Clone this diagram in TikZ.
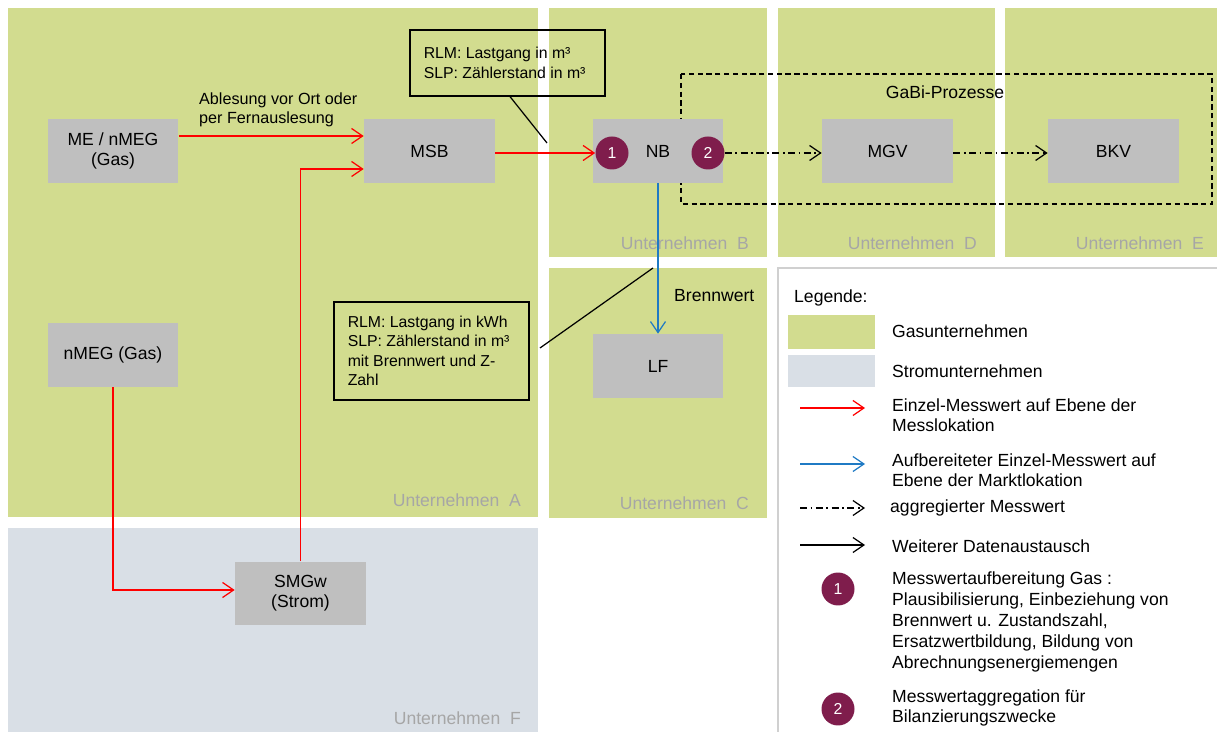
\documentclass[tikz,border=0pt]{standalone}
\usepackage{fontspec}
\setmainfont{Liberation Sans}
\usetikzlibrary{arrows.meta}
\definecolor{gasgreen}{HTML}{D2DC8F}
\definecolor{stromblue}{HTML}{D9DFE6}
\definecolor{boxgray}{HTML}{BFBFBF}
\definecolor{nrpurple}{HTML}{7F1D4C}
\definecolor{firmgray}{HTML}{A6A6A6}
\definecolor{blauline}{HTML}{1F7AC4}
\definecolor{leglinegray}{HTML}{D0D0D0}
\tikzset{
  tip/.style={-{Straight Barb[length=2.2mm,width=3mm]}},
  rotpfeil/.style={tip, red, line width=0.7pt},
  blaupfeil/.style={tip, blauline, line width=0.7pt},
  aggrpfeil/.style={tip, black, line width=0.7pt, dash pattern=on 4pt off 2pt on 1pt off 2pt},
  schwarzpfeil/.style={tip, black, line width=0.7pt},
  rolle/.style={fill=boxgray, minimum width=2.62cm, minimum height=1.28cm, align=center, inner sep=0pt},
  nr/.style={circle, fill=nrpurple, text=white, minimum size=0.66cm, inner sep=0pt, font=\fontsize{9}{10}\selectfont},
  firma/.style={text=firmgray, anchor=east},
  hinweis/.style={draw, line width=0.7pt, minimum width=3.9cm, inner sep=0pt},
  hinweistext/.style={anchor=west, align=left, inner xsep=0.28cm, font=\fontsize{9}{11}\selectfont},
  leg/.style={anchor=west, align=left}
}

\begin{document}
\begin{tikzpicture}[x=0.02cm, y=-0.02cm, font=\fontsize{10}{11.3}\selectfont]
  \useasboundingbox (0,0) rectangle (1217,732);
  % Unternehmen
  \fill[gasgreen] (8,8) rectangle (538,517);
  \fill[stromblue] (8,528) rectangle (538,732);
  \fill[gasgreen] (549,8) rectangle (767,257);
  \fill[gasgreen] (549,268) rectangle (767,518);
  \fill[gasgreen] (778,8) rectangle (995,257);
  \fill[gasgreen] (1005,8) rectangle (1217,257);
  \node[firma] (fa) at (527,500) {Unternehmen~~A};
  \node[firma] (fb) at (755,243) {Unternehmen~~B};
  \node[firma] (fc) at (755,503) {Unternehmen~~C};
  \node[firma] (fd) at (983,243) {Unternehmen~~D};
  \node[firma] (fe) at (1210,243) {Unternehmen~~E};
  \node[firma] (ff) at (527,718) {Unternehmen~~F};

  % GaBi
  \draw[line width=0.7pt, dash pattern=on 3pt off 2pt] (681,74) rectangle (1212,204);
  \node (gabi) at (945,92) {GaBi-Prozesse};

  % Marktrollen
  \node[rolle] (me) at (113,151) {ME / nMEG\\(Gas)};
  \node[rolle] (msb) at (429.5,151) {MSB};
  \node[rolle] (nb) at (658,151) {NB};
  \node[rolle] (mgv) at (887.5,151) {MGV};
  \node[rolle] (bkv) at (1113.5,151) {BKV};
  \node[rolle] (nmeg) at (113,355) {nMEG (Gas)};
  \node[rolle] (lf) at (658,366) {LF};
  \node[rolle] (smgw) at (300.5,593.5) {SMGw\\(Strom)};
  \node[nr] (n1) at (612,153) {1};
  \node[nr] (n2) at (708,153) {2};

  % Datenfluss
  \draw[rotpfeil] ([yshift=0.3cm]me.east) -- ([yshift=0.3cm]msb.west);
  \node[anchor=west, align=left, font=\fontsize{9.2}{10.8}\selectfont] (abl) at (193,110) {Ablesung vor Ort oder\\per Fernauslesung};
  \draw[rotpfeil] (nmeg.south) |- ([yshift=0.07cm]smgw.west);
  \draw[rotpfeil] (smgw.north) |- ([yshift=-0.36cm]msb.west);
  \draw[rotpfeil] (msb.east |- n1) -- (n1.west);
  \draw[aggrpfeil] (n2.east) -- (mgv.west |- n2);
  \draw[aggrpfeil] (mgv.east |- n2) -- (bkv.west |- n2);
  \draw[blaupfeil] (nb.south) -- (lf.north);
  \node[anchor=west] (bw) at (668,296) {Brennwert};

  % Hinweise
  \node[hinweis, minimum height=1.32cm] (h1) at (507.5,63) {};
  \node[hinweistext] (h1text) at (h1.west) {RLM: Lastgang in m³\\SLP: Zählerstand in m³};
  \coordinate (h1end) at (547,143);
  \draw[line width=0.7pt] ([xshift=0.05cm]h1.south) -- (h1end);
  \node[hinweis, minimum height=1.96cm] (h2) at (431.5,351) {};
  \node[hinweistext] (h2text) at (h2.west) {RLM: Lastgang in kWh\\SLP: Zählerstand in m³\\mit Brennwert und Z-\\Zahl};
  \coordinate (h2a) at (540,348);
  \coordinate (h2b) at (653,268);
  \draw[line width=0.7pt] (h2a) -- (h2b);

  % Legende
  \draw[leglinegray, line width=0.8pt] (778,732) -- (778,268) -- (1217,268);
  \node[leg] (legtitel) at (788,298) {Legende:};
  \fill[gasgreen] (788,315) rectangle (875,349);
  \fill[stromblue] (788,355) rectangle (875,387);
  \node[leg] (lgas) at (886,331) {Gasunternehmen};
  \node[leg] (lstrom) at (886,371) {Stromunternehmen};
  \coordinate (lr1) at (800,408); \coordinate (lr2) at (865,408);
  \draw[rotpfeil] (lr1) -- (lr2);
  \node[leg] (lrot) at (886,415) {Einzel-Messwert auf Ebene der\\Messlokation};
  \coordinate (lb1) at (800,464); \coordinate (lb2) at (865,464);
  \draw[blaupfeil] (lb1) -- (lb2);
  \node[leg] (lblau) at (886,470) {Aufbereiteter Einzel-Messwert auf\\Ebene der Marktlokation};
  \coordinate (la1) at (800,508); \coordinate (la2) at (865,508);
  \draw[aggrpfeil] (la1) -- (la2);
  \node[leg] (laggr) at (884,508) {aggregierter Messwert};
  \coordinate (ls1) at (800,545); \coordinate (ls2) at (865,545);
  \draw[schwarzpfeil] (ls1) -- (ls2);
  \node[leg] (lweiter) at (886,546) {Weiterer Datenaustausch};
  \node[nr] (ln1) at (838,589) {1};
  \node[leg, font=\fontsize{10}{11.9}\selectfont] (lnr1) at (886,622) {Messwertaufbereitung Gas :\\Plausibilisierung, Einbeziehung von\\Brennwert u. Zustandszahl,\\Ersatzwertbildung, Bildung von\\Abrechnungsenergiemengen};
  \node[nr] (ln2) at (838,709) {2};
  \node[leg] (lnr2) at (886,708) {Messwertaggregation für\\Bilanzierungszwecke};
\end{tikzpicture}
\end{document}
